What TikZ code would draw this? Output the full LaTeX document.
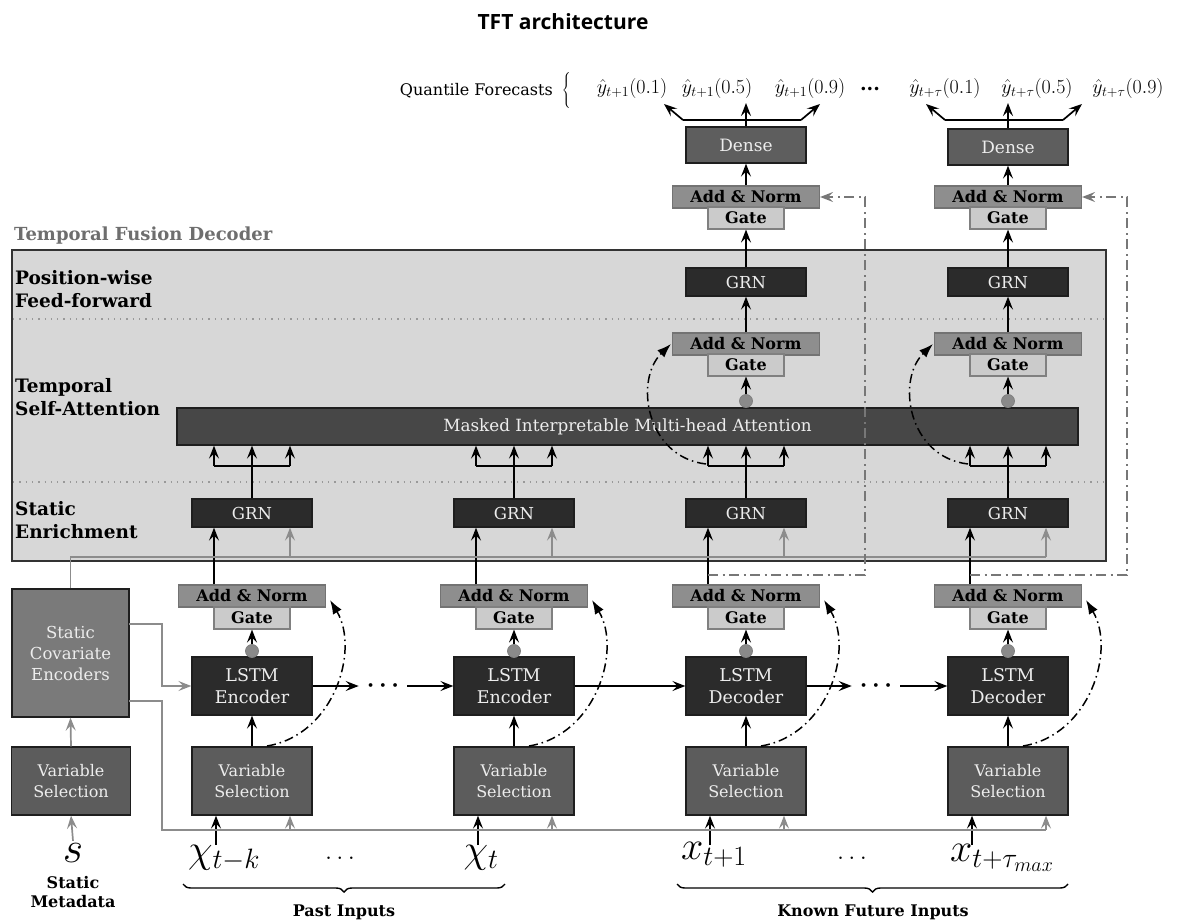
\RequirePackage{fix-cm}
\documentclass[tikz,border=0pt]{standalone}
\usepackage[no-math]{fontspec}
\setmainfont{DejaVu Serif}
\newfontfamily\titlefont{Open Sans}
\usetikzlibrary{arrows.meta,decorations.pathreplacing}
\definecolor{boxdark}{HTML}{2B2B2B}
\definecolor{attc}{HTML}{474747}
\definecolor{densec}{HTML}{5E5E5E}
\definecolor{vsc}{HTML}{5C5C5C}
\definecolor{scec}{HTML}{7A7A7A}
\definecolor{anc}{HTML}{8E8E8E}
\definecolor{gatec}{HTML}{CBCBCB}
\definecolor{tfdc}{HTML}{D7D7D7}
\definecolor{glc}{HTML}{8C8C8C}
\definecolor{lblc}{HTML}{6E6E6E}
\definecolor{dotc}{HTML}{8A8A8A}
\definecolor{edgec}{HTML}{1E1E1E}
\definecolor{softwhite}{HTML}{EDEDED}
\begin{document}
\begin{tikzpicture}[x=1pt,y=-1pt,
  every node/.style={inner sep=0pt},
  basebox/.style={draw=edgec, line width=1.3pt, inner sep=0pt, align=center},
  grnbox/.style={basebox, fill=boxdark, text=softwhite, minimum width=120pt, minimum height=28pt, font=\fontsize{16.5}{19}\selectfont},
  lstmbox/.style={basebox, fill=boxdark, text=softwhite, minimum width=120pt, minimum height=58pt, font=\fontsize{17.5}{22}\selectfont},
  vsbox/.style={basebox, fill=vsc, text=softwhite, minimum width=120pt, minimum height=68pt, font=\fontsize{16}{20.5}\selectfont},
  scebox/.style={basebox, fill=scec, text=softwhite, minimum width=117pt, minimum height=128pt, font=\fontsize{16.5}{21}\selectfont},
  densebox/.style={basebox, fill=densec, text=softwhite, minimum width=120pt, minimum height=36pt, font=\fontsize{17}{20}\selectfont},
  attbox/.style={basebox, fill=attc, text=softwhite, minimum width=901pt, minimum height=37pt, font=\fontsize{16.8}{19}\selectfont},
  anbox/.style={draw=black!55, fill=anc, line width=1.1pt, minimum width=147pt, minimum height=22pt, inner sep=0pt, font=\bfseries\fontsize{16}{18}\selectfont},
  gatebox/.style={draw=black!50, fill=gatec, line width=1.1pt, minimum width=76pt, minimum height=22pt, inner sep=0pt, font=\bfseries\fontsize{16}{18}\selectfont},
  gdot/.style={circle, fill=dotc, draw=black!50, line width=0.8pt, minimum size=13pt, inner sep=0pt},
  tfdbox/.style={draw=black!80, fill=tfdc, line width=1.4pt, minimum width=1094pt, minimum height=311pt},
  rowlbl/.style={anchor=west, align=left, font=\bfseries\fontsize{18.5}{23.5}\selectfont},
  btmlbl/.style={align=center, font=\bfseries\fontsize{16}{19.5}\selectfont},
  qlbl/.style={font=\fontsize{20}{23}\selectfont},
  inlbl/.style={font=\fontsize{40}{44}\selectfont},
  blkline/.style={line width=1.7pt, draw=black},
  blkarrow/.style={line width=1.7pt, draw=black, -{Stealth[length=13pt,width=10pt,inset=5pt]}},
  gryline/.style={line width=1.7pt, draw=glc},
  gryarrow/.style={line width=1.7pt, draw=glc, -{Stealth[length=13pt,width=10pt,inset=5pt]}},
  skiparrow/.style={line width=1.5pt, draw=black, dash pattern=on 9pt off 4pt on 1.5pt off 4pt, -{Latex[length=14pt,width=10pt]}},
  gryskip/.style={line width=1.6pt, draw=glc!85!black, dash pattern=on 10pt off 4.5pt on 2pt off 4.5pt, -{Stealth[length=13pt,width=10pt,inset=5pt]}},
  dotsep/.style={line width=1.3pt, draw=black!40, dash pattern=on 1.3pt off 5pt},
]
\useasboundingbox (0,0) rectangle (1177,921);

% title
\node[font=\titlefont\bfseries\fontsize{21}{25}\selectfont] (title) at (563,22) {TFT architecture};

% temporal fusion decoder frame
\node[tfdbox] (tfd) at (559,405.5) {};
\node[anchor=west, text=lblc, font=\bfseries\fontsize{18}{21}\selectfont] (tfdlbl) at (14,236) {Temporal Fusion Decoder};
\coordinate (dl1a) at (13,319); \coordinate (dl1b) at (1105,319);
\coordinate (dl2a) at (13,482); \coordinate (dl2b) at (1105,482);
\draw[dotsep] (dl1a) -- (dl1b);
\draw[dotsep] (dl2a) -- (dl2b);
\node[rowlbl] (rl1) at (15,289) {Position-wise\\Feed-forward};
\node[rowlbl] (rl2) at (15,397) {Temporal\\Self-Attention};
\node[rowlbl] (rl3) at (15,520) {Static\\Enrichment};

% attention bar
\node[attbox] (att) at (627.5,426.5) {Masked Interpretable Multi-head Attention};

% static covariate encoders and static variable selection
\node[scebox] (sce) at (70.5,653) {Static\\Covariate\\Encoders};
\node[vsbox, minimum width=119pt] (vs0) at (71,781) {Variable\\Selection};
\draw[gryarrow] (vs0.north) -- (sce.south);
\node[inlbl, font=\fontsize{44}{48}\selectfont, anchor=base, inner sep=2pt] (sm) at (73,862) {$s$};
\draw[gryarrow] (sm.north) -- (vs0.south);
\node[btmlbl, anchor=north] (smlbl) at (73,876) {Static\\Metadata};

% column structures
\foreach \i/\cx/\w in {1/252/Encoder,2/514/Encoder,3/746/Decoder,4/1008/Decoder} {
  \node[vsbox] (vs\i) at (\cx,781) {Variable\\Selection};
  \node[lstmbox] (lstm\i) at (\cx,686) {LSTM\\\w};
  \node[anbox] (anL\i) at (\cx,596) {Add \& Norm};
  \node[gatebox] (gL\i) at (\cx,618) {Gate};
  \node[gdot] (dL\i) at (\cx,651) {};
  \node[grnbox] (grnS\i) at (\cx,513) {GRN};
  \coordinate (in\i) at (\cx-36,845);
  \coordinate (gv\i) at (\cx+38,830);
  \coordinate (ge\i) at (\cx+38,557);
  \coordinate (fl\i) at (\cx-38,466);
  \coordinate (fm\i) at (\cx,466);
  \coordinate (fr\i) at (\cx+38,466);
  \coordinate (sks\i) at (\cx+15,746);
  \draw[blkarrow] (in\i) -- (vs\i.south -| in\i);
  \draw[gryarrow] (gv\i) -- (vs\i.south -| gv\i);
  \draw[blkarrow] (vs\i.north) -- (lstm\i.south);
  \draw[blkarrow] (dL\i.north) -- (gL\i.south);
  \draw[blkarrow] ([xshift=-38pt]anL\i.north) -- ([xshift=-38pt]grnS\i.south);
  \draw[gryarrow] (ge\i) -- (grnS\i.south -| ge\i);
  \draw[blkline] (grnS\i.north) -- (fm\i);
  \draw[blkline] (fl\i) -- (fr\i);
  \draw[blkarrow] (fl\i) -- (att.south -| fl\i);
  \draw[blkarrow] (fm\i) -- (att.south -| fm\i);
  \draw[blkarrow] (fr\i) -- (att.south -| fr\i);
  \draw[skiparrow] (sks\i) .. controls (\cx+82,735) and (\cx+108,650) .. ([xshift=4pt,yshift=-4pt]anL\i.east);
}

% grey static context lines
\coordinate (sceA) at (129,624);
\coordinate (sceB) at (129,701);
\draw[gryline] (sce.north) |- (ge4);
\draw[gryarrow] (sceA) -| (162,686) -- (lstm1.west);
\draw[gryline] (sceB) -| (162,830) -- (gv4);

% LSTM chain
\node[font=\boldmath\fontsize{24}{26}\selectfont, inner sep=8pt] (dots1) at (383,686) {$\cdots$};
\node[font=\boldmath\fontsize{24}{26}\selectfont, inner sep=8pt] (dots2) at (876,686) {$\cdots$};
\draw[blkarrow] (lstm1.east) -- (dots1.west);
\draw[blkarrow] (dots1.east) -- (lstm2.west);
\draw[blkarrow] (lstm2.east) -- (lstm3.west);
\draw[blkarrow] (lstm3.east) -- (dots2.west);
\draw[blkarrow] (dots2.east) -- (lstm4.west);

% decoder upper part
\foreach \i/\cx/\dy in {3/746/145,4/1008/147} {
  \node[gdot] (dA\i) at (\cx,401) {};
  \node[anbox] (anM\i) at (\cx,344) {Add \& Norm};
  \node[gatebox] (gM\i) at (\cx,365) {Gate};
  \node[grnbox] (grnT\i) at (\cx,282) {GRN};
  \node[anbox] (anT\i) at (\cx,197) {Add \& Norm};
  \node[gatebox] (gT\i) at (\cx,218) {Gate};
  \node[densebox] (dense\i) at (\cx,\dy) {Dense};
  \draw[blkarrow] (dA\i.north) -- (gM\i.south);
  \draw[blkarrow] (anM\i.north) -- (grnT\i.south);
  \draw[blkarrow] (grnT\i.north) -- (gT\i.south);
  \draw[blkarrow] (anT\i.north) -- (dense\i.south);
  \coordinate (tl\i) at (\cx-63,120);
  \coordinate (tr\i) at (\cx+55,120);
  \coordinate (tlA\i) at (\cx-82,104);
  \coordinate (trA\i) at (\cx+74,104);
  \coordinate (tmA\i) at (\cx,103);
  \draw[blkline] (tl\i) -- (tr\i);
  \draw[blkarrow] (dense\i.north) -- (tmA\i);
  \draw[blkarrow] (tl\i) -- (tlA\i);
  \draw[blkarrow] (tr\i) -- (trA\i);
  \coordinate (usk\i) at (\cx-40,464);
  \draw[skiparrow] (usk\i) .. controls (\cx-100,457) and (\cx-112,380) .. ([xshift=-1pt]anM\i.west);
}

% long skip connections
\coordinate (sk3) at (708,575);
\coordinate (sk4) at (970,575);
\draw[gryskip] (sk3) -- (865,575) |- (anT3.east);
\draw[gryskip] (sk4) -- (1127,575) |- (anT4.east);

% quantile forecasts
\node[anchor=east, font=\fontsize{16}{19}\selectfont] (qf) at (553,91) {Quantile Forecasts};
\node[font=\fontsize{16}{19}\selectfont] (qbr) at (567,91) {$\left\{\rule[-15pt]{0pt}{30pt}\right.$};
\node[qlbl] (q31) at (632,88) {$\hat{y}_{t+1}(0.1)$};
\node[qlbl] (q35) at (717,88) {$\hat{y}_{t+1}(0.5)$};
\node[qlbl] (q39) at (810,88) {$\hat{y}_{t+1}(0.9)$};
\node[font=\bfseries\fontsize{19}{22}\selectfont] (qdots) at (870,89) {...};
\node[qlbl] (q41) at (945,88) {$\hat{y}_{t+\tau}(0.1)$};
\node[qlbl] (q45) at (1037,88) {$\hat{y}_{t+\tau}(0.5)$};
\node[qlbl] (q49) at (1128,88) {$\hat{y}_{t+\tau}(0.9)$};

% inputs
\node[inlbl] (x1) at (224,858) {$\chi_{t-k}$};
\node[inlbl, font=\fontsize{26}{28}\selectfont] (xd1) at (340,858) {$\dots$};
\node[inlbl] (x2) at (481,858) {$\chi_{t}$};
\node[inlbl] (x3) at (714,855) {$x_{t+1}$};
\node[inlbl, font=\fontsize{26}{28}\selectfont] (xd2) at (852,858) {$\dots$};
\node[inlbl] (x4) at (1002,858) {$x_{t+\tau_{max}}$};

\coordinate (b1a) at (183,884); \coordinate (b1b) at (505,884);
\coordinate (b2a) at (677,884); \coordinate (b2b) at (1068,884);
\draw[line width=1.4pt, decorate, decoration={brace, amplitude=8pt, mirror}] (b1a) -- (b1b);
\draw[line width=1.4pt, decorate, decoration={brace, amplitude=8pt, mirror}] (b2a) -- (b2b);
\node[btmlbl] (pastlbl) at (344,912) {Past Inputs};
\node[btmlbl] (futlbl) at (873,912) {Known Future Inputs};
\end{tikzpicture}
\end{document}
